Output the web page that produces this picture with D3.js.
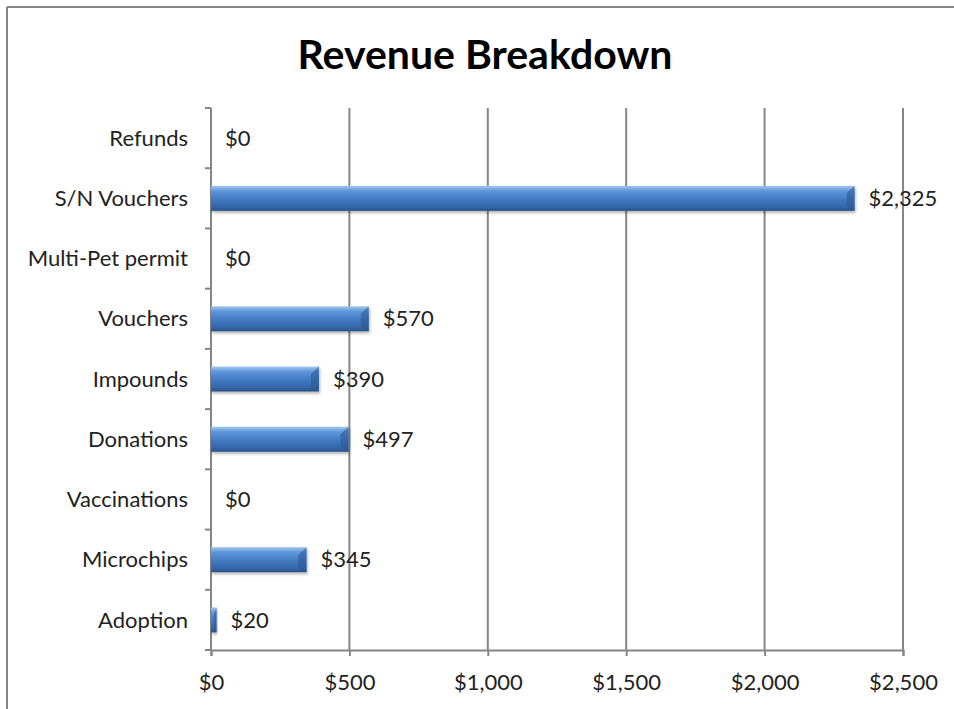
<!DOCTYPE html>
<html>
<head>
<meta charset="utf-8">
<script src="https://cdn.jsdelivr.net/npm/d3@7"></script>
<style>
  body { margin: 0; background: #fff; }
  svg text { font-family: Lato, "Open Sans", sans-serif; }
</style>
</head>
<body>
<div id="chart"></div>
<script>
// chart data, top to bottom
var categories = ['Refunds', 'S/N Vouchers', 'Multi-Pet permit', 'Vouchers', 'Impounds',
  'Donations', 'Vaccinations', 'Microchips', 'Adoption'];
var revenue = [0, 2325, 0, 570, 390, 497, 0, 345, 20];
var xTicks = [0, 500, 1000, 1500, 2000, 2500];

var width = 954, height = 709;
var fmt = d3.format('$,');

var svg = d3.select('#chart').append('svg')
  .attr('width', width)
  .attr('height', height);

// frame (only top and left edges show in the picture)
svg.append('line').attr('x1', 7).attr('x2', width).attr('y1', 7).attr('y2', 7)
  .attr('stroke', '#868686').attr('stroke-width', 2);
svg.append('line').attr('x1', 7).attr('x2', 7).attr('y1', 7).attr('y2', height)
  .attr('stroke', '#868686').attr('stroke-width', 2);

var defs = svg.append('defs');
var grad = defs.append('linearGradient')
  .attr('id', 'barGrad').attr('x1', 0).attr('x2', 0).attr('y1', 0).attr('y2', 1);
grad.append('stop').attr('offset', '0%').attr('stop-color', '#a4c8f0');
grad.append('stop').attr('offset', '20%').attr('stop-color', '#5f97da');
grad.append('stop').attr('offset', '55%').attr('stop-color', '#4179c3');
grad.append('stop').attr('offset', '85%').attr('stop-color', '#3566a8');
grad.append('stop').attr('offset', '100%').attr('stop-color', '#284f85');

var shadow = defs.append('filter').attr('id', 'shadow')
  .attr('x', '-10%').attr('y', '-20%').attr('width', '130%').attr('height', '160%');
shadow.append('feDropShadow').attr('dx', 1).attr('dy', 2).attr('stdDeviation', 1.5)
  .attr('flood-color', '#000').attr('flood-opacity', 0.3);

svg.append('text')
  .attr('x', 485).attr('y', 69)
  .attr('text-anchor', 'middle')
  .attr('font-size', 41).attr('font-weight', 'bold')
  .text('Revenue Breakdown');

var x = d3.scaleLinear().domain([0, 2500]).range([211, 903]);
var y = d3.scaleBand().domain(categories).range([108, 650]);

// vertical gridlines
svg.selectAll('.grid').data(xTicks.slice(1)).enter().append('line')
  .attr('class', 'grid')
  .attr('x1', function(d) { return x(d); })
  .attr('x2', function(d) { return x(d); })
  .attr('y1', 108).attr('y2', 650)
  .attr('stroke', '#868686').attr('stroke-width', 2);

// x axis
var xAxis = svg.append('g')
  .attr('transform', 'translate(0,650)')
  .call(d3.axisBottom(x).tickValues(xTicks).tickFormat(fmt).tickSize(6).tickPadding(18));
xAxis.select('.domain').attr('stroke', '#868686').attr('stroke-width', 2);
xAxis.selectAll('.tick line').attr('stroke', '#868686').attr('stroke-width', 2);
xAxis.selectAll('.tick text').attr('font-size', 22).attr('fill', '#222')
  .style('font-family', 'Lato, sans-serif');

// y axis: line with ticks at category boundaries
svg.append('line').attr('x1', 211).attr('x2', 211).attr('y1', 108).attr('y2', 650)
  .attr('stroke', '#868686').attr('stroke-width', 2);
var bounds = categories.map(function(c) { return y(c); }).concat([650]);
svg.selectAll('.ytick').data(bounds).enter().append('line')
  .attr('class', 'ytick')
  .attr('x1', 205).attr('x2', 211)
  .attr('y1', function(d) { return d; })
  .attr('y2', function(d) { return d; })
  .attr('stroke', '#868686').attr('stroke-width', 2);

svg.selectAll('.cat').data(categories).enter().append('text')
  .attr('class', 'cat')
  .attr('x', 188)
  .attr('y', function(d) { return y(d) + y.bandwidth() / 2; })
  .attr('dy', '0.35em')
  .attr('text-anchor', 'end')
  .attr('font-size', 22).attr('fill', '#222')
  .text(function(d) { return d; });

// bars
var barH = 25;
var bars = svg.selectAll('.bar').data(revenue.map(function(v, i) { return { cat: categories[i], v: v }; })
    .filter(function(d) { return d.v > 0; }))
  .enter().append('g')
  .attr('class', 'bar')
  .attr('transform', function(d) { return 'translate(' + x(0) + ',' + (y(d.cat) + y.bandwidth() / 2 - barH / 2) + ')'; })
  .attr('filter', 'url(#shadow)');

bars.append('rect')
  .attr('width', function(d) { return Math.max(x(d.v) - x(0), 5); })
  .attr('height', barH)
  .attr('fill', 'url(#barGrad)');

// bevelled right end
bars.append('path')
  .attr('d', function(d) {
    var w = Math.max(x(d.v) - x(0), 5), b = Math.min(8, w / 2);
    return 'M' + w + ',0L' + (w - b) + ',' + (barH * 0.3) + 'L' + (w - b) + ',' + (barH * 0.8) +
      'L' + w + ',' + barH + 'Z';
  })
  .attr('fill', '#2a5592').attr('opacity', 0.55);

svg.selectAll('.val').data(revenue).enter().append('text')
  .attr('class', 'val')
  .attr('x', function(d) { return x(d) + 14; })
  .attr('y', function(d, i) { return y(categories[i]) + y.bandwidth() / 2; })
  .attr('dy', '0.35em')
  .attr('font-size', 22).attr('fill', '#222')
  .text(function(d) { return fmt(d); });
</script>
</body>
</html>
